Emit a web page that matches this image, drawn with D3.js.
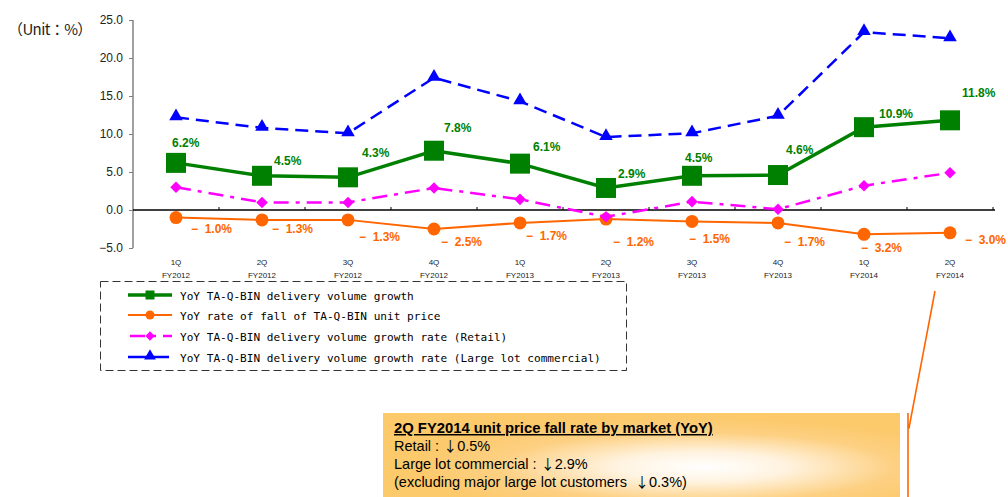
<!DOCTYPE html>
<html><head><meta charset="utf-8">
<script src="https://cdn.jsdelivr.net/npm/d3@7"></script>
<style>
html,body{margin:0;padding:0;background:#fff;}
svg{display:block;}
</style></head>
<body>
<svg id="c" width="1008" height="497"></svg>
<script>
// ---------- data ----------
const quarters = ["1Q","2Q","3Q","4Q","1Q","2Q","3Q","4Q","1Q","2Q"];
const fiscalYears = ["FY2012","FY2012","FY2012","FY2012","FY2013","FY2013","FY2013","FY2013","FY2014","FY2014"];
const volumeGrowth = [6.2, 4.5, 4.3, 7.8, 6.1, 2.9, 4.5, 4.6, 10.9, 11.8];
const unitPriceFall = [-1.0, -1.3, -1.3, -2.5, -1.7, -1.2, -1.5, -1.7, -3.2, -3.0];
const retailGrowth = [3.0, 1.0, 1.0, 2.9, 1.4, -0.9, 1.1, 0.1, 3.2, 4.9];
const largeLotGrowth = [12.2, 10.8, 10.1, 17.4, 14.3, 9.6, 10.1, 12.4, 23.4, 22.6];
const yTicks = [-5, 0, 5, 10, 15, 20, 25];
const seriesNames = [
  "YoY TA-Q-BIN delivery volume growth",
  "YoY rate of fall of TA-Q-BIN unit price",
  "YoY TA-Q-BIN delivery volume growth rate (Retail)",
  "YoY TA-Q-BIN delivery volume growth rate (Large lot commercial)"
];
const unitLabel = "（Unit：%）";
const calloutTitle = "2Q FY2014 unit price fall rate by market (YoY)";
const calloutLines = [["Retail : ", "0.5%", ""], ["Large lot commercial : ", "2.9%", ""], ["(excluding major large lot customers  ", "0.3%", ")"]];

// label nudges (relative placement of value labels)
const greenNudge = [[-4,-16],[12,-11],[14,-20],[10,-19],[13,-13],[12,-10],[-7,-14],[8,-21],[15,-9],[12,-23]];
const orangeNudge = [[15,15],[10,13],[11,21],[7,17],[6,17],[7,27],[-3,22],[6,23],[-3,18],[15,11]];

// ---------- setup ----------
const svg = d3.select("#c");
const idx = d3.range(quarters.length);
const x = d3.scaleBand().domain(idx).range([133, 993]).padding(0);
const cx = i => x(i) + x.bandwidth() / 2;
const y = d3.scaleLinear().domain([-5, 25]).range([248, 20]);

const GREEN = "#008000", ORANGE = "#FF6600", MAGENTA = "#FF00FF", BLUE = "#0000FF";
const FONT = "'Liberation Sans', Arial, sans-serif";
const CJK = "'Noto Sans CJK JP', sans-serif";

// unit label
svg.append("text").attr("x", 8).attr("y", 35).attr("font-family", CJK)
  .attr("font-size", 15).attr("letter-spacing", -0.6).attr("fill", "#222").text(unitLabel);

// y axis
const yAxis = d3.axisLeft(y).tickValues(yTicks).tickSize(4).tickFormat(d3.format(".1f"));
const yg = svg.append("g").attr("transform", "translate(133,0)").call(yAxis);
yg.select(".domain").attr("stroke", "#808080").attr("stroke-width", 1.5).attr("d", "M0," + y(25) + "V" + y(-5));
yg.selectAll(".tick line").attr("stroke", "#808080");
yg.selectAll(".tick text").attr("font-family", FONT).attr("font-size", 12).attr("fill", "#222").attr("x", -10);

// zero line with category ticks
svg.append("line").attr("x1", 133).attr("x2", 995).attr("y1", y(0)).attr("y2", y(0))
  .attr("stroke", "#000").attr("stroke-width", 1.3);
idx.forEach(i => {
  const xx = x(i) + x.bandwidth();
  svg.append("line").attr("x1", xx).attr("x2", xx).attr("y1", y(0)).attr("y2", y(0) - 3)
    .attr("stroke", "#000").attr("stroke-width", 1);
});

// category labels
const cat = svg.append("g").attr("font-family", FONT).attr("font-size", 8).attr("fill", "#222").attr("text-anchor", "middle");
idx.forEach(i => {
  cat.append("text").attr("x", cx(i)).attr("y", 265).text(quarters[i]);
  cat.append("text").attr("x", cx(i)).attr("y", 278).text(fiscalYears[i]);
});

const line = d3.line().x((d, i) => cx(i)).y(d => y(d));

// orange series
svg.append("path").attr("d", line(unitPriceFall)).attr("fill", "none").attr("stroke", ORANGE).attr("stroke-width", 2);
svg.selectAll(".oc").data(unitPriceFall).enter().append("circle")
  .attr("cx", (d, i) => cx(i)).attr("cy", d => y(d)).attr("r", 6.5).attr("fill", ORANGE);

// magenta series
svg.append("path").attr("d", line(retailGrowth)).attr("fill", "none").attr("stroke", MAGENTA)
  .attr("stroke-width", 2.5).attr("stroke-dasharray", "15,7,4,7");
svg.selectAll(".md").data(retailGrowth).enter().append("path")
  .attr("d", d3.symbol().type(d3.symbolDiamond2).size(85)())
  .attr("transform", (d, i) => `translate(${cx(i)},${y(d)})`).attr("fill", MAGENTA);

// blue series
svg.append("path").attr("d", line(largeLotGrowth)).attr("fill", "none").attr("stroke", BLUE)
  .attr("stroke-width", 2.5).attr("stroke-dasharray", "13,7");
svg.selectAll(".bt").data(largeLotGrowth).enter().append("path")
  .attr("d", d3.symbol().type(d3.symbolTriangle).size(80)())
  .attr("transform", (d, i) => `translate(${cx(i)},${y(d) - 1})`).attr("fill", BLUE);

// green series
svg.append("path").attr("d", line(volumeGrowth)).attr("fill", "none").attr("stroke", GREEN).attr("stroke-width", 3.5);
svg.selectAll(".gs").data(volumeGrowth).enter().append("rect")
  .attr("x", (d, i) => cx(i) - 10).attr("y", d => y(d) - 10).attr("width", 20).attr("height", 20).attr("fill", GREEN);

// value labels
svg.selectAll(".gl").data(volumeGrowth).enter().append("text")
  .attr("x", (d, i) => cx(i) + greenNudge[i][0]).attr("y", (d, i) => y(d) + greenNudge[i][1])
  .attr("font-family", FONT).attr("font-size", 12).attr("font-weight", "bold").attr("fill", GREEN)
  .text(d => d.toFixed(1) + "%");
svg.selectAll(".ol").data(unitPriceFall).enter().append("text")
  .attr("x", (d, i) => cx(i) + orangeNudge[i][0]).attr("y", (d, i) => y(d) + orangeNudge[i][1])
  .attr("font-family", FONT).attr("font-size", 12).attr("font-weight", "bold").attr("fill", ORANGE)
  .attr("xml:space", "preserve")
  .text(d => "−  " + Math.abs(d).toFixed(1) + "%");

// legend
const lg = svg.append("g");
lg.append("rect").attr("x", 100.5).attr("y", 281.5).attr("width", 526).attr("height", 89)
  .attr("fill", "none").attr("stroke", "#333").attr("stroke-width", 1).attr("stroke-dasharray", "8,4");
const rowsY = [295, 315, 336, 357];
const lx1 = 128, lx2 = 172, lmx = 150;
lg.append("line").attr("x1", lx1).attr("x2", lx2).attr("y1", rowsY[0]).attr("y2", rowsY[0]).attr("stroke", GREEN).attr("stroke-width", 3.5);
lg.append("rect").attr("x", lmx - 4.5).attr("y", rowsY[0] - 4.5).attr("width", 9).attr("height", 9).attr("fill", GREEN);
lg.append("line").attr("x1", lx1).attr("x2", lx2).attr("y1", rowsY[1]).attr("y2", rowsY[1]).attr("stroke", ORANGE).attr("stroke-width", 2);
lg.append("circle").attr("cx", lmx).attr("cy", rowsY[1]).attr("r", 4.5).attr("fill", ORANGE);
lg.append("line").attr("x1", lx1).attr("x2", lx2).attr("y1", rowsY[2]).attr("y2", rowsY[2]).attr("stroke", MAGENTA).attr("stroke-width", 2.5).attr("stroke-dasharray", "15,7,4,7").attr("stroke-dashoffset", -2);
lg.append("path").attr("d", d3.symbol().type(d3.symbolDiamond2).size(55)()).attr("transform", `translate(${lmx},${rowsY[2]})`).attr("fill", MAGENTA);
lg.append("line").attr("x1", lx1).attr("x2", lx2 - 3).attr("y1", rowsY[3]).attr("y2", rowsY[3]).attr("stroke", BLUE).attr("stroke-width", 2.5);
lg.append("path").attr("d", d3.symbol().type(d3.symbolTriangle).size(60)()).attr("transform", `translate(${lmx},${rowsY[3] - 1})`).attr("fill", BLUE);
seriesNames.forEach((n, i) => {
  lg.append("text").attr("x", 180).attr("y", rowsY[i] + 4.5).attr("font-family", "'DejaVu Sans Mono', monospace")
    .attr("font-size", 11.1).attr("fill", "#000").text(n);
});

// callout box
const defs = svg.append("defs");
const rg = defs.append("radialGradient").attr("id", "cg").attr("cx", 0.6).attr("cy", 0.6).attr("r", 0.55)
  .attr("fx", 0.62).attr("fy", 0.6);
rg.append("stop").attr("offset", "0%").attr("stop-color", "#ffffff");
rg.append("stop").attr("offset", "30%").attr("stop-color", "#fff3e0");
rg.append("stop").attr("offset", "70%").attr("stop-color", "#fdd082");
rg.append("stop").attr("offset", "100%").attr("stop-color", "#fcc96b");
svg.append("rect").attr("x", 383).attr("y", 413).attr("width", 517).attr("height", 90).attr("fill", "url(#cg)");

const ct = svg.append("g").attr("font-family", FONT).attr("font-size", 14.5).attr("fill", "#000");
ct.append("text").attr("x", 394).attr("y", 433).attr("font-weight", "bold").attr("font-size", 14.8)
  .attr("text-decoration", "underline").text(calloutTitle);
calloutLines.forEach((t, i) => {
  const tx = ct.append("text").attr("x", 394).attr("y", 451 + i * 18).attr("xml:space", "preserve");
  tx.append("tspan").text(t[0]);
  tx.append("tspan").attr("font-family", CJK).attr("font-size", 14).text("↓");
  tx.append("tspan").text(t[1] + t[2]);
});

// connector
svg.append("path").attr("d", "M935,291 L909,428 L908,428 M908,413 L908,497")
  .attr("fill", "none").attr("stroke", ORANGE).attr("stroke-width", 1.6);
</script>
</body></html>
